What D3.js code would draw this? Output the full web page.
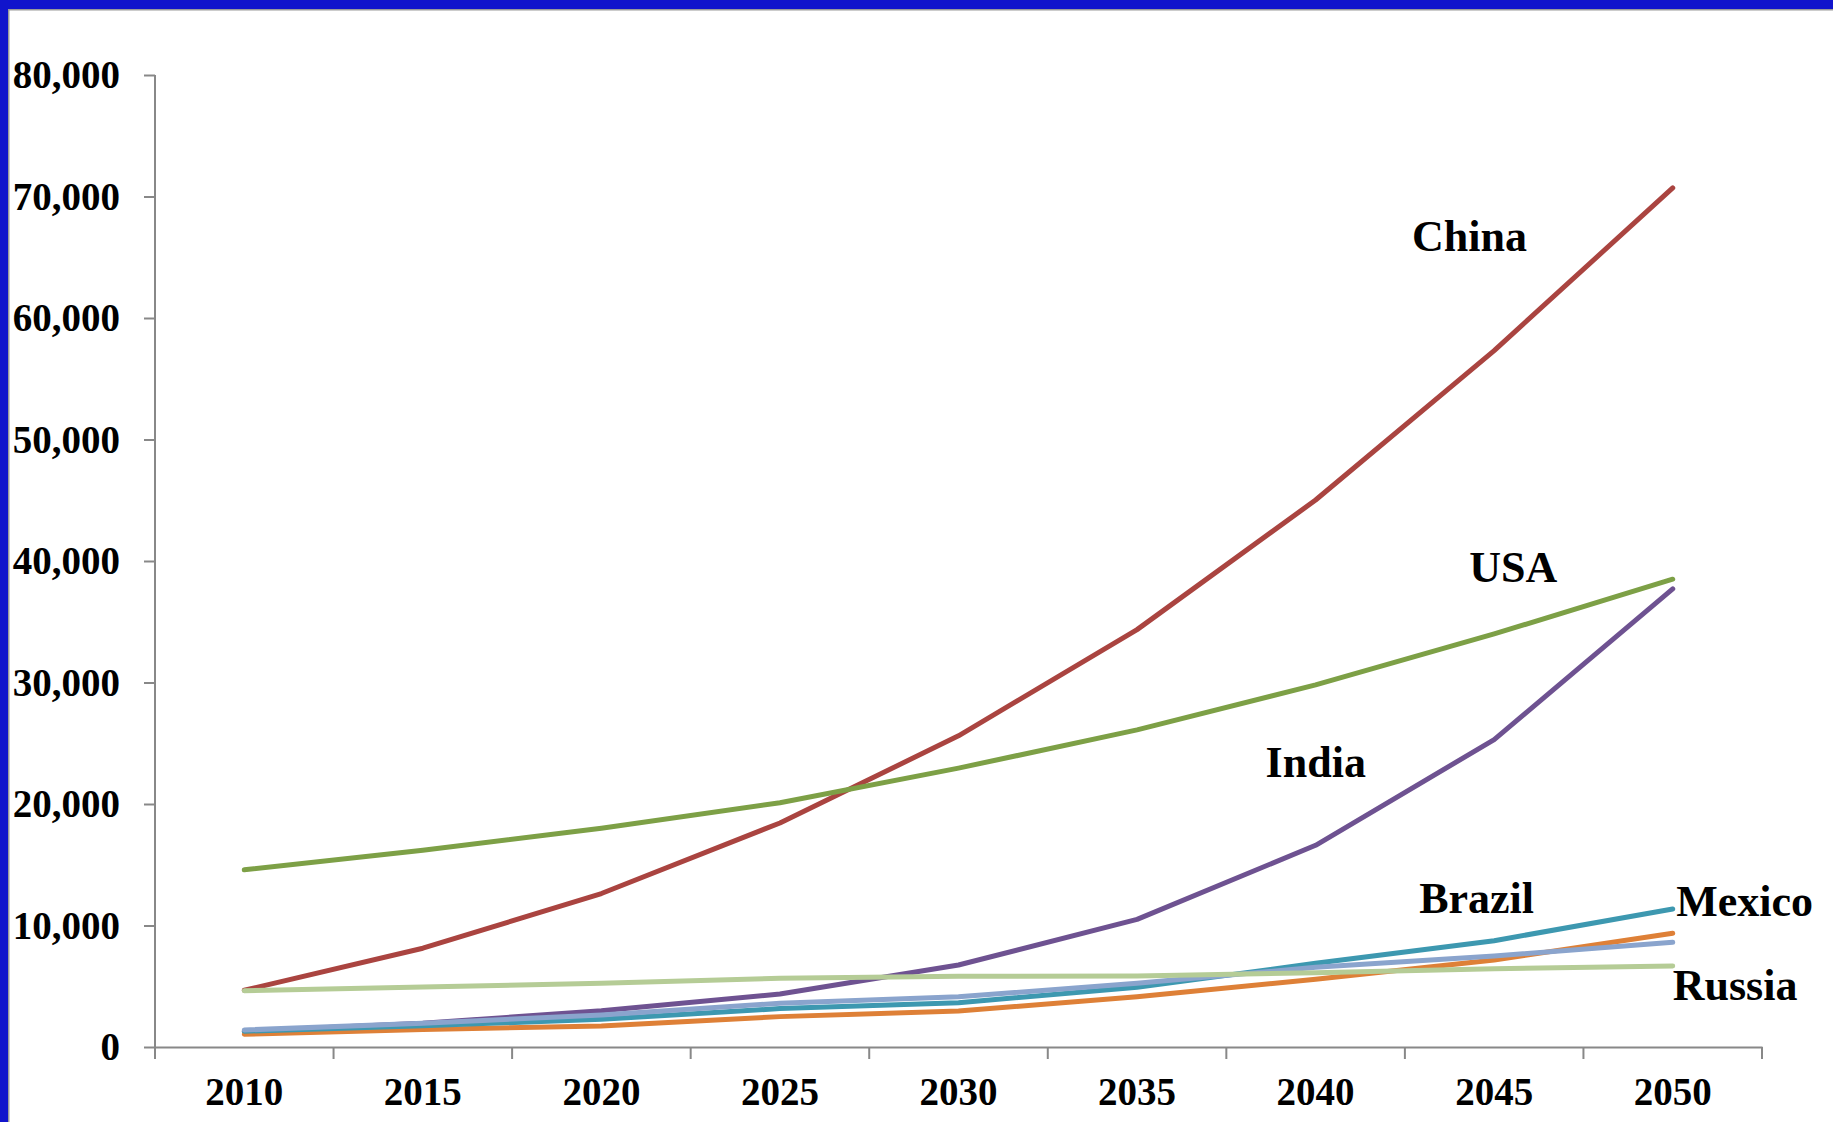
<!DOCTYPE html>
<html>
<head>
<meta charset="utf-8">
<script src="https://cdn.jsdelivr.net/npm/d3@7"></script>
<style>
  html, body { margin: 0; padding: 0; background: #ffffff; }
  svg { display: block; }
  .lbl { font-family: "Liberation Serif", "Times New Roman", serif; font-weight: bold; fill: #000; }
</style>
</head>
<body>
<svg id="chart" width="1833" height="1122"></svg>
<script>
// ---- data (GDP, US$ bn) ----
const years = [2010, 2015, 2020, 2025, 2030, 2035, 2040, 2045, 2050];
const yTicks = [0, 10000, 20000, 30000, 40000, 50000, 60000, 70000, 80000];

const china    = [4667, 8130, 12630, 18440, 25610, 34350, 45020, 57310, 70710];
const usa      = [14580, 16200, 18000, 20100, 22950, 26100, 29800, 34000, 38500];
const india    = [1300, 1950, 2990, 4360, 6750, 10500, 16600, 25300, 37700];
const brazil   = [1050, 1450, 1730, 2500, 2960, 4140, 5570, 7160, 9360];
const mexico   = [1300, 1750, 2280, 3160, 3650, 4910, 6890, 8750, 11360];
const other    = [1400, 1950, 2630, 3600, 4140, 5240, 6560, 7490, 8620];
const russia   = [4634, 4930, 5240, 5650, 5820, 5840, 6120, 6450, 6670];

const seriesNames  = ["China", "USA", "India", "Brazil", "Mexico", "Other", "Russia"];
const seriesValues = [china, usa, india, brazil, mexico, other, russia];
const seriesColors = ["#AA4440", "#7DA046", "#6E5291", "#DE8037", "#3D98B0", "#8AA4CD", "#B5CC96"];

// text labels: [text, year position, value position]
const labelTexts  = ["China", "USA", "India", "Brazil", "Mexico", "Russia"];
const labelYears  = [2042.7, 2044.3, 2038.6, 2042.9, 2050.1, 2050.0];
const labelValues = [65510, 38270, 22220, 11030, 10780, 3870];

(function () {
  const svg = d3.select("#chart");
  const W = 1833, H = 1122;
  const mLeft = 155, mRight = 1762, mTop = 75, mBottom = 1047;

  // frame: blue band at top and left with thin gray inner line
  svg.append("rect").attr("x", 0).attr("y", 0).attr("width", W).attr("height", 9).attr("fill", "#1114CC");
  svg.append("rect").attr("x", 0).attr("y", 0).attr("width", 8).attr("height", H).attr("fill", "#1114CC");
  svg.append("rect").attr("x", 8).attr("y", 9).attr("width", W - 8).attr("height", 1.5).attr("fill", "#9a9a9a");
  svg.append("rect").attr("x", 8).attr("y", 9).attr("width", 1.5).attr("height", H - 9).attr("fill", "#9a9a9a");

  const x = d3.scaleBand().domain(years).range([mLeft, mRight]).padding(0);
  const bw = x.bandwidth();
  const xc = d => x(d) + bw / 2;
  const xYear = d3.scaleLinear().domain([2010, 2050]).range([xc(2010), xc(2050)]);
  const y = d3.scaleLinear().domain([0, 80000]).range([mBottom, mTop]);

  const axisColor = "#888888";

  // y axis
  const yAxis = svg.append("g")
    .attr("transform", `translate(${mLeft},0)`)
    .call(d3.axisLeft(y).tickValues(yTicks).tickFormat(d3.format(",")).tickSize(11).tickSizeOuter(0).tickPadding(24));
  yAxis.select(".domain").attr("stroke", axisColor).attr("stroke-width", 2)
    .attr("d", `M0,${mTop}V${mBottom + 12}`);
  yAxis.selectAll(".tick line").attr("stroke", axisColor).attr("stroke-width", 2);
  yAxis.selectAll(".tick text")
    .attr("class", "lbl").attr("font-size", 39).attr("dy", "0.33em");

  // x axis
  const xAxis = svg.append("g")
    .attr("transform", `translate(0,${mBottom})`)
    .call(d3.axisBottom(x).tickSize(0).tickSizeOuter(0).tickPadding(58));
  xAxis.select(".domain").attr("stroke", axisColor).attr("stroke-width", 2);
  xAxis.selectAll(".tick text").attr("class", "lbl").attr("font-size", 39).attr("dy", 0);
  // tick marks between categories
  const edges = years.map(d => x(d)).concat([mRight]);
  xAxis.selectAll(".edge").data(edges).enter().append("line")
    .attr("x1", d => d).attr("x2", d => d).attr("y1", 0).attr("y2", 12)
    .attr("stroke", axisColor).attr("stroke-width", 2);

  // lines
  const line = d3.line().x((d, i) => xc(years[i])).y(d => y(d));
  svg.append("g").selectAll("path").data(seriesValues).enter().append("path")
    .attr("d", d => line(d))
    .attr("fill", "none")
    .attr("stroke", (d, i) => seriesColors[i])
    .attr("stroke-width", 5)
    .attr("stroke-linecap", "round")
    .attr("stroke-linejoin", "round");

  // labels
  svg.append("g").selectAll("text").data(labelTexts).enter().append("text")
    .attr("class", "lbl")
    .attr("font-size", 44)
    .attr("x", (d, i) => xYear(labelYears[i]))
    .attr("y", (d, i) => y(labelValues[i]))
    .text(d => d);
})();
</script>
</body>
</html>
